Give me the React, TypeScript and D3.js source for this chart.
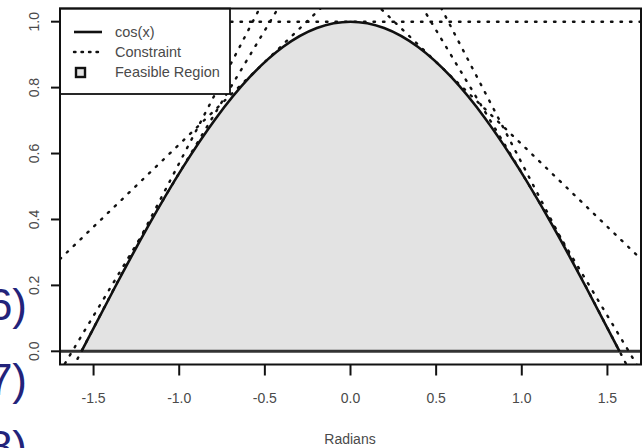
import React from "react";
import * as d3 from "d3";

// Sampled points of cos(x) on [-pi/2, pi/2]
const curveX = [-1.5708, -1.3744, -1.1781, -0.9817, -0.7854, -0.589, -0.3927, -0.1963, 0, 0.1963, 0.3927, 0.589, 0.7854, 0.9817, 1.1781, 1.3744, 1.5708];
const curveY = [0, 0.1951, 0.3827, 0.5556, 0.7071, 0.8315, 0.9239, 0.9808, 1, 0.9808, 0.9239, 0.8315, 0.7071, 0.5556, 0.3827, 0.1951, 0];

// Tangent-line constraints: point of tangency and slope
const tangentX = [-1.5708, -1.0472, -0.5236, 0, 0.5236, 1.0472, 1.5708];
const tangentY = [0, 0.5, 0.866, 1, 0.866, 0.5, 0];
const tangentSlope = [1, 0.866, 0.5, 0, -0.5, -0.866, -1];

const xTicks = [-1.5, -1.0, -0.5, 0.0, 0.5, 1.0, 1.5];
const yTicks = [0.0, 0.2, 0.4, 0.6, 0.8, 1.0];
const legendLabels = ["cos(x)", "Constraint", "Feasible Region"];
const sideLabels = ["6)", "7)", "8)"];

const W = 642;
const H = 448;
const L = 60, R = 641, T = 8.5, B = 364.5;

export default function App() {
  const x = d3.scaleLinear().domain([-1.696, 1.696]).range([L, R]);
  const y = d3.scaleLinear().domain([-0.04, 1.04]).range([B, T]);
  const pts: [number, number][] = curveX.map((v, i) => [v, curveY[i]]);
  const line = d3.line<[number, number]>().x(d => x(d[0])).y(d => y(d[1])).curve(d3.curveNatural);
  const area = d3.area<[number, number]>().x(d => x(d[0])).y0(y(0)).y1(d => y(d[1])).curve(d3.curveNatural);
  const [x0, x1] = x.domain();
  const font = "'Liberation Sans', Arial, sans-serif";
  const dot = { stroke: "#111", strokeWidth: 2.4, strokeDasharray: "1.5,8", strokeLinecap: "round" as const, fill: "none" };
  const textCol = "#4a4a4a";
  const sideY = [320, 395, 462];

  return (
    <svg width={W} height={H} style={{ position: "absolute", left: 0, top: 0, display: "block", background: "#fff" }} fontFamily={font}>
      <defs>
        <clipPath id="plotclip">
          <rect x={L} y={T} width={R - L} height={B - T} />
        </clipPath>
      </defs>
      <g clipPath="url(#plotclip)">
        <path d={area(pts) || ""} fill="#e3e3e3" stroke="none" />
        <line x1={L} x2={R} y1={y(0)} y2={y(0)} stroke="#333" strokeWidth={3} />
        {tangentX.map((a, i) => {
          const f = (v: number) => tangentY[i] + tangentSlope[i] * (v - a);
          return <line key={i} x1={x(x0)} y1={y(f(x0))} x2={x(x1)} y2={y(f(x1))} {...dot} />;
        })}
        <path d={line(pts) || ""} fill="none" stroke="#111" strokeWidth={2.6} />
      </g>
      {/* legend */}
      <rect x={L} y={T} width={230 - L} height={94 - T} fill="#fff" stroke="#111" strokeWidth={1.8} />
      <line x1={74} x2={102} y1={32} y2={32} stroke="#111" strokeWidth={2.6} />
      <line x1={74} x2={104} y1={52} y2={52} {...dot} strokeDasharray="1.5,6" />
      <rect x={76} y={68} width={9} height={9} fill="#e3e3e3" stroke="#111" strokeWidth={2.4} />
      {legendLabels.map((t, i) => (
        <text key={t} x={115} y={37 + i * 20} fontSize={14.5} fill={textCol}>{t}</text>
      ))}
      {/* box */}
      <rect x={L} y={T} width={R - L} height={B - T} fill="none" stroke="#111" strokeWidth={2} />
      {/* x axis */}
      {xTicks.map(t => (
        <g key={t}>
          <line x1={x(t)} x2={x(t)} y1={B} y2={B + 11} stroke="#111" strokeWidth={2} />
          <text x={x(t)} y={403} textAnchor="middle" fontSize={14} fill={textCol}>{t.toFixed(1)}</text>
        </g>
      ))}
      <text x={350} y={444} textAnchor="middle" fontSize={14} fill={textCol}>Radians</text>
      {/* y axis */}
      {yTicks.map(t => (
        <g key={t}>
          <line x1={L - 9} x2={L} y1={y(t)} y2={y(t)} stroke="#111" strokeWidth={2} />
          <text transform={`translate(39,${y(t)}) rotate(-90)`} textAnchor="middle" fontSize={14} fill={textCol}>{t.toFixed(1)}</text>
        </g>
      ))}
      {/* stray slide text */}
      {sideLabels.map((t, i) => (
        <text key={t} x={27} y={sideY[i]} textAnchor="end" fontSize={44} fill="#23237a">{t}</text>
      ))}
    </svg>
  );
}
